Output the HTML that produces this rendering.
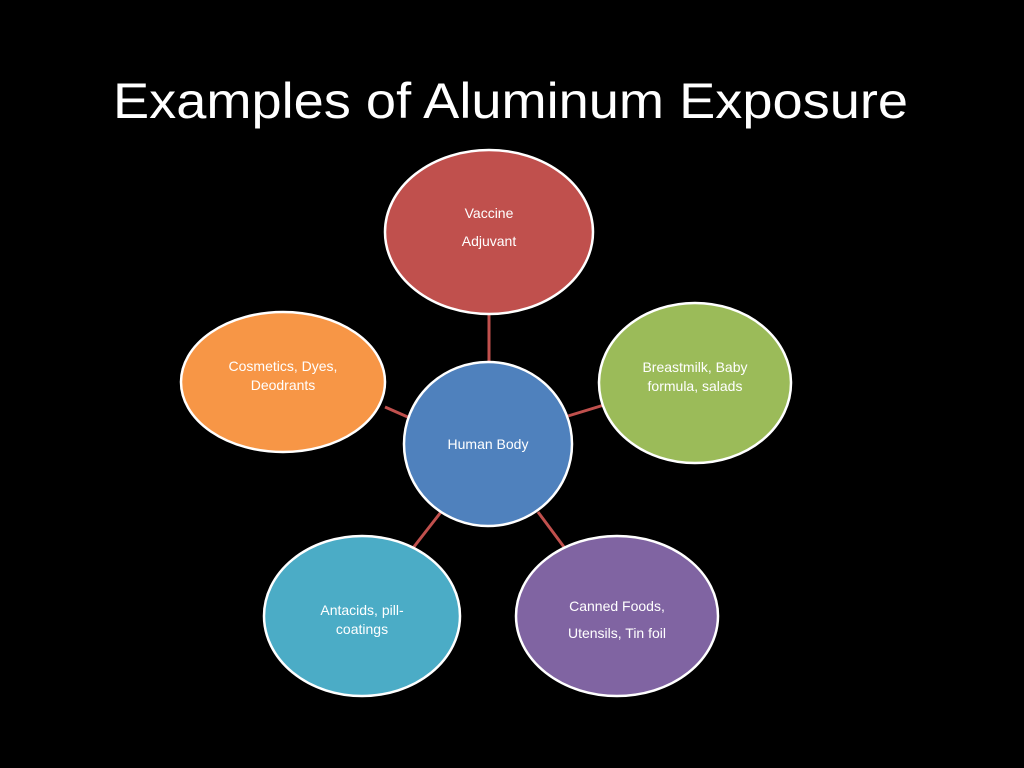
<!DOCTYPE html>
<html><head><meta charset="utf-8"><style>
html,body{margin:0;padding:0;background:#000;}
svg{display:block;}
text{font-family:"Liberation Sans",sans-serif;fill:#fff;}
</style></head><body>
<svg width="1024" height="768" viewBox="0 0 1024 768">
<rect width="1024" height="768" fill="#000"/>
<text x="113" y="118" font-size="50" textLength="795" lengthAdjust="spacingAndGlyphs">Examples of Aluminum Exposure</text>
<g stroke="#c0504d" stroke-width="3">
<line x1="489" y1="312" x2="489" y2="362"/>
<line x1="568" y1="416" x2="604" y2="405"/>
<line x1="385" y1="407" x2="410" y2="418"/>
<line x1="441" y1="512" x2="413" y2="548"/>
<line x1="538" y1="512" x2="564" y2="547"/>
</g>
<g stroke="#fff" stroke-width="2.5">
<ellipse cx="489" cy="232" rx="104" ry="82" fill="#c0504d"/>
<ellipse cx="695" cy="383" rx="96" ry="80" fill="#9bbb59"/>
<ellipse cx="283" cy="382" rx="102" ry="70" fill="#f79646"/>
<ellipse cx="488" cy="444" rx="84" ry="82" fill="#4f81bd"/>
<ellipse cx="362" cy="616" rx="98" ry="80" fill="#4bacc6"/>
<ellipse cx="617" cy="616" rx="101" ry="80" fill="#8064a2"/>
</g>
<g font-size="14" text-anchor="middle">
<text x="489" y="218">Vaccine</text>
<text x="489" y="246">Adjuvant</text>
<text x="695" y="372">Breastmilk, Baby</text>
<text x="695" y="391">formula, salads</text>
<text x="283" y="371">Cosmetics, Dyes,</text>
<text x="283" y="390">Deodrants</text>
<text x="488" y="449">Human Body</text>
<text x="362" y="615">Antacids, pill-</text>
<text x="362" y="634">coatings</text>
<text x="617" y="611">Canned Foods,</text>
<text x="617" y="638">Utensils, Tin foil</text>
</g>
</svg>
</body></html>
